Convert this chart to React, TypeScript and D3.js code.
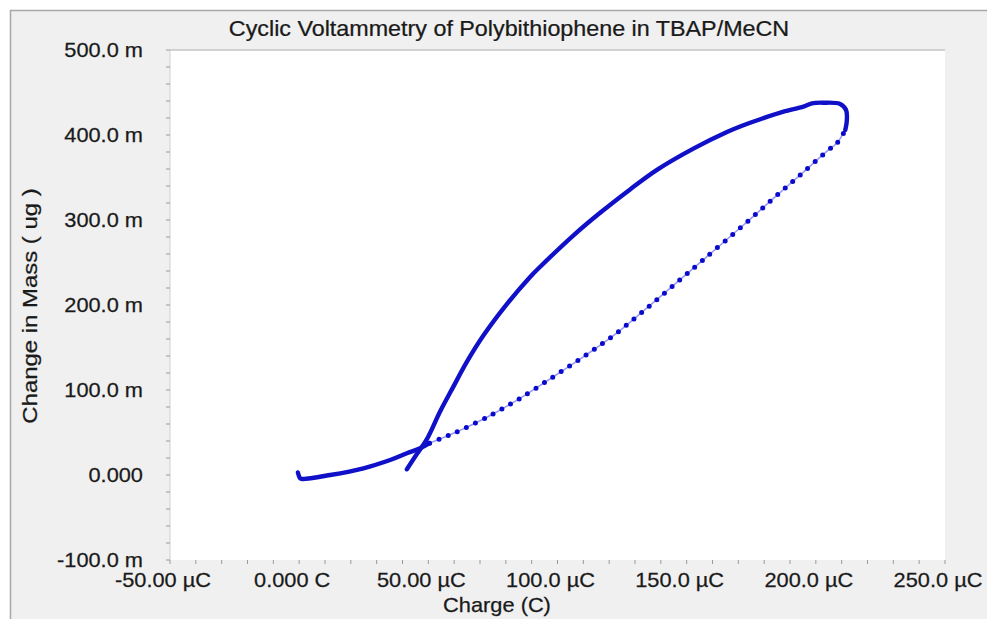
import React from "react";
import * as d3 from "d3";

// ---- data (Charge in µC, Change in Mass in m·ug) ----
const initialBranch: [number, number][] = [
  [-0.5, 3], [0.4, -3.9], [1.2, -4.7], [12, 0], [24.9, 7.9], [35.2, 17.6],
  [41.7, 25.5], [46.8, 31.4], [50.5, 37.5],
];
const anodicBranch: [number, number][] = [
  [50.5, 37.5], [54.6, 42.5], [59.7, 49], [62.3, 52.5], [72.7, 68], [76.5, 74.3],
  [85.5, 90.2], [98.4, 115.6], [110.7, 140.5], [121.4, 163.5], [132.7, 191.5],
  [144.3, 221.5], [156.3, 252.9], [172, 294.1], [183.6, 325.5], [193.9, 352.9],
  [204.9, 382.4], [208.1, 390.2], [211.4, 405.9],
];
const returnBranch: [number, number][] = [
  [211.4, 405.9], [212, 417.6], [211.7, 429.4], [209.4, 436.5], [203, 438],
  [198.5, 437.3], [195.2, 433.3], [187.5, 427.4], [178.5, 418.5], [170.7, 410],
  [165.6, 403.5], [152.6, 384], [138.5, 359], [128.1, 336], [116.5, 308.5],
  [106.2, 282], [93.3, 245], [89.4, 233], [80.4, 201], [71.3, 164],
  [64.9, 133], [59.7, 104], [54.6, 75], [49.4, 42], [45.3, 23.5], [41.7, 6.7],
];

const xTickValues = [-50, 0, 50, 100, 150, 200, 250];
const xTickLabels = ["-50.00 µC", "0.000 C", "50.00 µC", "100.0 µC", "150.0 µC", "200.0 µC", "250.0 µC"];
const yTickValues = [-100, 0, 100, 200, 300, 400, 500];
const yTickLabels = ["-100.0 m", "0.000", "100.0 m", "200.0 m", "300.0 m", "400.0 m", "500.0 m"];

const title = "Cyclic Voltammetry of Polybithiophene in TBAP/MeCN";
const xTitle = "Charge (C)";
const yTitle = "Change in Mass ( ug )";

// ---- layout ----
const W = 987;
const H = 619;
const left = 170, right = 945, top = 50, bottom = 560;
const FONT = "'Liberation Sans', Arial, sans-serif";
const SX = 1.09;
const TEXT = "#1a1a1a";
const textStyle = { stroke: TEXT, strokeWidth: 0.25 };

export default function App() {
  const x = d3.scaleLinear().domain([-50, 250]).range([left, right]);
  const y = d3.scaleLinear().domain([-100, 500]).range([bottom, top]);
  const line = d3
    .line<[number, number]>()
    .x((d) => x(d[0]))
    .y((d) => y(d[1]))
    .curve(d3.curveCatmullRom.alpha(0.5));

  const xMinor = d3.range(-50, 250.001, 10);
  const yMinor = d3.range(-100, 500.001, 20);

  return (
    <svg
      width={W}
      height={H}
      style={{ position: "absolute", left: 0, top: 0, display: "block", background: "#fff" }}
    >
      {/* frame */}
      <rect x={10} y={10} width={W - 10} height={H - 10} fill="#f0f0f0" />
      <line x1={10} y1={10.5} x2={W} y2={10.5} stroke="#a8a8a8" strokeWidth={1.5} />
      <line x1={10.5} y1={10} x2={10.5} y2={H} stroke="#a8a8a8" strokeWidth={1.5} />

      {/* plot area */}
      <rect x={left} y={top} width={right - left} height={bottom - top} fill="#ffffff" />
      <line x1={left} y1={top} x2={right} y2={top} stroke="#c4c4c4" strokeWidth={1.5} />
      <line x1={left} y1={top} x2={left} y2={bottom} stroke="#d0d0d0" strokeWidth={1} />

      {/* ticks */}
      {xMinor.map((v) => (
        <line key={"xt" + v} x1={x(v)} x2={x(v)} y1={bottom} y2={bottom + 4} stroke="#9a9a9a" strokeWidth={1} />
      ))}
      {yMinor.map((v) => (
        <line key={"yt" + v} x1={left - 4} x2={left} y1={y(v)} y2={y(v)} stroke="#9a9a9a" strokeWidth={1} />
      ))}

      {/* tick labels */}
      {xTickValues.map((v, i) => (
        <g key={"xl" + v} transform={`translate(${x(v) - 7},587) scale(${SX},1)`}>
          <text textAnchor="middle" fontFamily={FONT} fontSize={20} fill={TEXT} style={textStyle}>
            {xTickLabels[i]}
          </text>
        </g>
      ))}
      {yTickValues.map((v, i) => (
        <g key={"yl" + v} transform={`translate(143,${y(v) + 7}) scale(${SX},1)`}>
          <text textAnchor="end" fontFamily={FONT} fontSize={20} fill={TEXT} style={textStyle}>
            {yTickLabels[i]}
          </text>
        </g>
      ))}

      {/* titles */}
      <g transform={`translate(509,36) scale(1.1,1)`}>
        <text textAnchor="middle" fontFamily={FONT} fontSize={21.2} fill={TEXT} style={textStyle}>
          {title}
        </text>
      </g>
      <g transform={`translate(497,612) scale(${SX},1)`}>
        <text textAnchor="middle" fontFamily={FONT} fontSize={20} fill={TEXT} style={textStyle}>
          {xTitle}
        </text>
      </g>
      <g transform={`translate(37,306) rotate(-90) scale(1.14,1)`}>
        <text textAnchor="middle" fontFamily={FONT} fontSize={21} fill={TEXT} style={textStyle}>
          {yTitle}
        </text>
      </g>

      {/* data */}
      <path d={line(initialBranch) || ""} fill="none" stroke="#1010c8" strokeWidth={4.4} strokeLinecap="round" strokeLinejoin="round" />
      <path d={line(anodicBranch) || ""} fill="none" stroke="#9a9af5" strokeWidth={1.6} />
      <path
        d={line(anodicBranch) || ""}
        fill="none"
        stroke="#0a0acc"
        strokeWidth={5}
        strokeLinecap="round"
        strokeDasharray="0 10"
      />
      <path d={line(returnBranch) || ""} fill="none" stroke="#1010c8" strokeWidth={4.4} strokeLinecap="round" strokeLinejoin="round" />
    </svg>
  );
}
